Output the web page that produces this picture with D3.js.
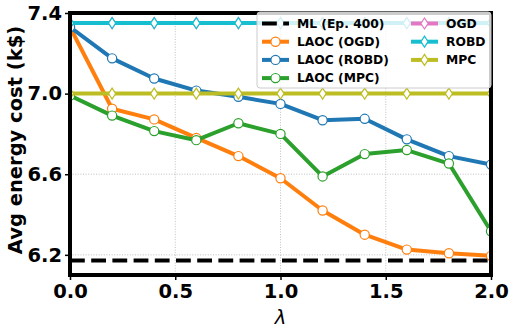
<!DOCTYPE html>
<html>
<head>
<meta charset="utf-8">
<script src="https://cdn.jsdelivr.net/npm/d3@7"></script>
<style>
  body { margin: 0; background: #fff; }
  svg { font-family: "DejaVu Sans", sans-serif; font-weight: bold; }
</style>
</head>
<body>
<div id="chart"></div>
<script>
(function () {
'use strict';

// lambda values on the x axis
var lambdas = [0.0, 0.2, 0.4, 0.6, 0.8, 1.0, 1.2, 1.4, 1.6, 1.8, 2.0];

// avg energy cost (k$) per series
var laocOgd  = [7.33, 6.925, 6.872, 6.78, 6.69, 6.58, 6.42, 6.30, 6.226, 6.208, 6.195];
var laocRobd = [7.33, 7.175, 7.075, 7.015, 6.984, 6.949, 6.868, 6.875, 6.773, 6.69, 6.648];
var laocMpc  = [6.99, 6.891, 6.814, 6.769, 6.853, 6.80, 6.589, 6.70, 6.72, 6.653, 6.317];
var ogd      = [7.35, 7.35, 7.35, 7.35, 7.35, 7.35, 7.35, 7.35, 7.35, 7.35, 7.35];
var robd     = [7.35, 7.35, 7.35, 7.35, 7.35, 7.35, 7.35, 7.35, 7.35, 7.35, 7.35];
var mpc      = [7.0, 7.0, 7.0, 7.0, 7.0, 7.0, 7.0, 7.0, 7.0, 7.0, 7.0];
var mlCost   = 6.172;

var xTicks = [0.0, 0.5, 1.0, 1.5, 2.0];
var yTicks = [6.2, 6.6, 7.0, 7.4];

var series = [
	{name: "LAOC (OGD)",  values: laocOgd,  color: "#ff7f0e", marker: "circle"},
	{name: "LAOC (ROBD)", values: laocRobd, color: "#1f77b4", marker: "circle"},
	{name: "LAOC (MPC)",  values: laocMpc,  color: "#2ca02c", marker: "circle"},
	{name: "OGD",         values: ogd,      color: "#e377c2", marker: "diamond"},
	{name: "ROBD",        values: robd,     color: "#17becf", marker: "diamond"},
	{name: "MPC",         values: mpc,      color: "#bcbd22", marker: "diamond"}
];

var W = 515, H = 330;
var margin = {left: 70, right: 24, top: 13, bottom: 55};
var pw = W - margin.left - margin.right;
var ph = H - margin.top - margin.bottom;

var x = d3.scaleLinear().domain([0, 2]).range([0, pw]);
var y = d3.scaleLinear().domain([6.1, 7.4]).range([ph, 0]);

var svg = d3.select("#chart").append("svg")
	.attr("width", W).attr("height", H);

svg.append("defs").append("clipPath").attr("id", "plotclip")
	.append("rect").attr("width", pw).attr("height", ph);

var g = svg.append("g").attr("transform", "translate(" + margin.left + "," + margin.top + ")");

// grid
g.selectAll(".gx").data(xTicks).enter().append("line")
	.attr("x1", function(d){ return x(d); }).attr("x2", function(d){ return x(d); })
	.attr("y1", 0).attr("y2", ph)
	.attr("stroke", "#b0b0b0").attr("stroke-width", 0.8).attr("stroke-dasharray", "1,1.6");
g.selectAll(".gy").data(yTicks).enter().append("line")
	.attr("x1", 0).attr("x2", pw)
	.attr("y1", function(d){ return y(d); }).attr("y2", function(d){ return y(d); })
	.attr("stroke", "#b0b0b0").attr("stroke-width", 0.8).attr("stroke-dasharray", "1,1.6");

var plot = g.append("g").attr("clip-path", "url(#plotclip)");

// ML reference line
plot.append("line")
	.attr("x1", x(0)).attr("x2", x(2))
	.attr("y1", y(mlCost)).attr("y2", y(mlCost))
	.attr("stroke", "#000").attr("stroke-width", 4)
	.attr("stroke-dasharray", "14.8,6.4");

var line = d3.line()
	.x(function(d, i){ return x(lambdas[i]); })
	.y(function(d){ return y(d); });

var diamond = function(cx, cy){
	return "M" + cx + "," + (cy - 5.5) + "L" + (cx + 3.6) + "," + cy +
		"L" + cx + "," + (cy + 5.5) + "L" + (cx - 3.6) + "," + cy + "Z";
};

var drawMarker = function(sel, s, cx, cy){
	if(s.marker === "circle"){
		sel.append("circle").attr("cx", cx).attr("cy", cy).attr("r", 4.6)
			.attr("fill", "#fff").attr("stroke", s.color).attr("stroke-width", 1.2);
	}else{
		sel.append("path").attr("d", diamond(cx, cy))
			.attr("fill", "#fff").attr("stroke", s.color).attr("stroke-width", 1.2);
	}
};

series.forEach(function(s){
	plot.append("path").datum(s.values)
		.attr("d", line)
		.attr("fill", "none").attr("stroke", s.color).attr("stroke-width", 4)
		.attr("stroke-linejoin", "round");
	var mg = plot.append("g");
	s.values.forEach(function(v, i){
		drawMarker(mg, s, x(lambdas[i]), y(v));
	});
});

// axes
var xAxis = g.append("g").attr("transform", "translate(0," + ph + ")")
	.call(d3.axisBottom(x).tickValues(xTicks).tickFormat(d3.format(".1f")).tickSize(5).tickPadding(4));
var yAxis = g.append("g")
	.call(d3.axisLeft(y).tickValues(yTicks).tickFormat(d3.format(".1f")).tickSize(5).tickPadding(3));
[xAxis, yAxis].forEach(function(a){
	a.select(".domain").remove();
	a.selectAll("text").attr("font-size", 19.5).attr("font-weight", "bold")
		.attr("font-family", "DejaVu Sans").attr("fill", "#000");
	a.selectAll("line").attr("stroke", "#000").attr("stroke-width", 1.5);
});

// frame
g.append("rect").attr("width", pw).attr("height", ph)
	.attr("fill", "none").attr("stroke", "#000").attr("stroke-width", 4);

// labels
svg.append("text")
	.attr("x", margin.left + pw / 2).attr("y", H - 6)
	.attr("text-anchor", "middle").attr("font-size", 19.5)
	.attr("font-style", "italic").attr("font-weight", "normal")
	.text("λ");
svg.append("text")
	.attr("transform", "translate(22,140) rotate(-90)")
	.attr("text-anchor", "middle").attr("font-size", 19.5)
	.text("Avg energy cost (k$)");

// legend
var leg = svg.append("g").attr("transform", "translate(257,12)");
leg.append("rect").attr("width", 234).attr("height", 76).attr("rx", 3)
	.attr("fill", "#fff").attr("fill-opacity", 0.8)
	.attr("stroke", "#cccccc").attr("stroke-width", 1);

var legendItems = [{name: "ML (Ep. 400)", color: "#000", marker: "dash"}].concat(series.slice(0, 3));
var legendRight = series.slice(3);

var drawLegendRow = function(s, lx, ly){
	if(s.marker === "dash"){
		leg.append("line").attr("x1", lx).attr("x2", lx + 27).attr("y1", ly).attr("y2", ly)
			.attr("stroke", "#000").attr("stroke-width", 4).attr("stroke-dasharray", "14.8,6.4");
	}else{
		leg.append("line").attr("x1", lx).attr("x2", lx + 27).attr("y1", ly).attr("y2", ly)
			.attr("stroke", s.color).attr("stroke-width", 4);
		drawMarker(leg, s, lx + 13.5, ly);
	}
	leg.append("text").attr("x", lx + 35).attr("y", ly).attr("dy", "0.35em")
		.attr("font-size", 12.3).text(s.name);
};

legendItems.forEach(function(s, i){ drawLegendRow(s, 5, 11.5 + i * 18.2); });
legendRight.forEach(function(s, i){ drawLegendRow(s, 154, 11.5 + i * 18.2); });

}());
</script>
</body>
</html>
